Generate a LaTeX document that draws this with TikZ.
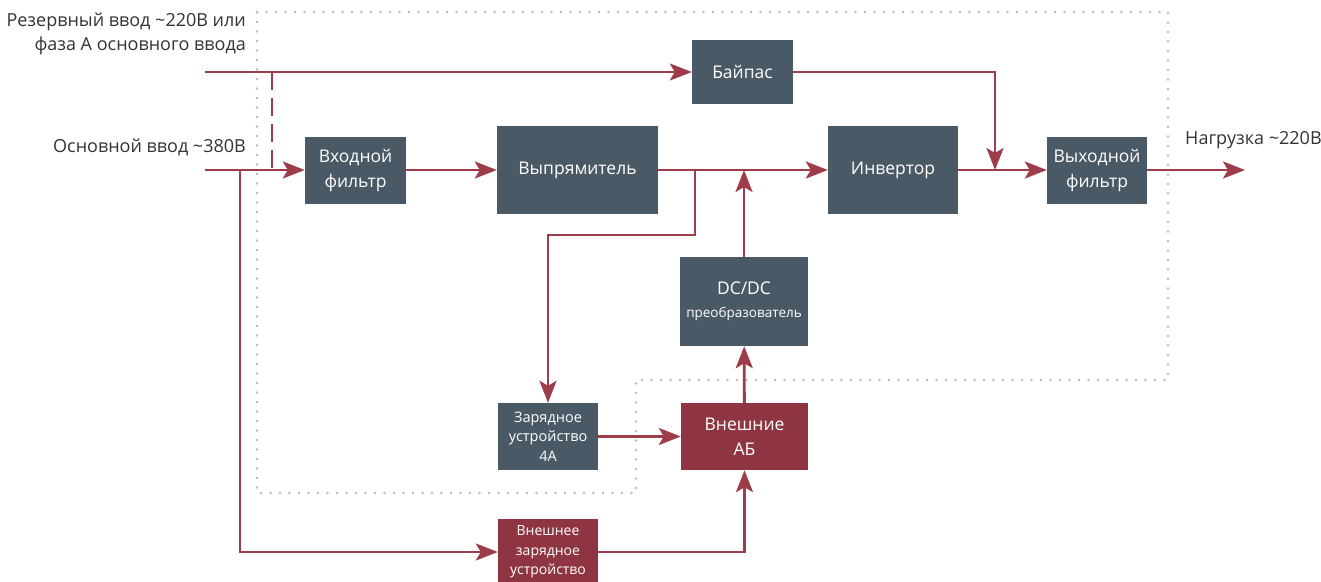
\documentclass[tikz,border=0pt]{standalone}
\usepackage{fontspec}
\setmainfont{Open Sans}
\usepackage{tikz}
\usetikzlibrary{arrows.meta, calc}

\definecolor{slate}{HTML}{4A5966}
\definecolor{accu}{HTML}{8E3541}
\definecolor{wirec}{HTML}{9E3C4A}

\begin{document}
\begin{tikzpicture}[x=1pt, y=-1pt,
  blk/.style={fill=slate, text=white, align=center, inner sep=0pt, font=\fontsize{17.5}{25}\selectfont},
  redblk/.style={blk, fill=accu},
  wire/.style={draw=wirec, line width=2.8pt},
  arr/.style={wire, -{Stealth[length=22pt, width=17pt, inset=5pt]}},
  frame/.style={draw=gray!55, line width=2.6pt, line cap=round, dash pattern=on 0pt off 9.5pt},
  lbl/.style={font=\fontsize{18}{24}\selectfont, text=black!80, inner sep=0pt}]
\useasboundingbox (0,0) rectangle (1321,581);

% dotted frame of the UPS
\draw[frame] (257,12) -- (1168,12) -- (1168,380) -- (636,380) -- (636,493) -- (257,493) -- cycle;

% blocks
\node[blk, minimum width=101pt, minimum height=67pt] (filtin) at (355.5,170) {Входной\\фильтр};
\node[blk, minimum width=161pt, minimum height=88pt] (rect) at (577.5,170) {Выпрямитель};
\node[blk, minimum width=101pt, minimum height=64pt] (bypass) at (742.5,72) {Байпас};
\node[blk, minimum width=130pt, minimum height=88pt] (inv) at (893,170) {Инвертор};
\node[blk, minimum width=100pt, minimum height=67pt] (filtout) at (1097,170) {Выходной\\фильтр};
\node[blk, minimum width=128pt, minimum height=89pt] (dcdc) at (744,301.5) {DC/DC\\[-2pt]{\fontsize{13.5}{18}\selectfont преобразователь}};
\node[blk, minimum width=100pt, minimum height=67pt, font=\fontsize{14.5}{19.5}\selectfont] (charger) at (548,436.5) {Зарядное\\устройство\\4А};
\node[redblk, minimum width=127pt, minimum height=67pt] (batt) at (744.5,436.5) {Внешние\\АБ};
\node[redblk, minimum width=100pt, minimum height=66pt, font=\fontsize{14}{19.5}\selectfont] (extch) at (548,552) {Внешнее\\зарядное\\устройство};

% inputs and output
\node[lbl, anchor=east, align=right] (lres) at (246,34) {Резервный ввод \textasciitilde220В или\\фаза А основного ввода};
\node[lbl, anchor=east] (lmain) at (246,147) {Основной ввод \textasciitilde380В};
\node[lbl, anchor=west] (lload) at (1185,140) {Нагрузка \textasciitilde220В};
\coordinate (inres) at (205,72);
\coordinate (inmain) at (205,170);
\coordinate (load) at (1245,170);
\coordinate (tapres) at (272,72);
\coordinate (tapmain) at (272,170);
\coordinate (tapext) at (240,170);
\coordinate (tapr) at (695,170);
\coordinate (joinb) at (995,170);

% connections
\draw[arr] (inres) -- (bypass.west);
\draw[wire, dash pattern=on 18pt off 8pt] (tapres) -- (tapmain);
\draw[arr] (inmain) -- (filtin.west);
\draw[arr] (filtin) -- (rect);
\draw[arr] (rect) -- (inv);
\draw[arr] (inv) -- (filtout);
\draw[arr] (filtout) -- (load);
\draw[arr] (bypass.east) -| (joinb);
\draw[arr] (tapr) -- ++(0,65) -| (charger.north);
\draw[arr] (dcdc.north) -- (dcdc.north |- rect.east);
\draw[arr] (charger) -- (batt);
\draw[arr] (batt) -- (dcdc);
\draw[arr] (tapext) |- (extch.west);
\draw[arr] (extch.east) -| (batt.south);
\end{tikzpicture}
\end{document}
